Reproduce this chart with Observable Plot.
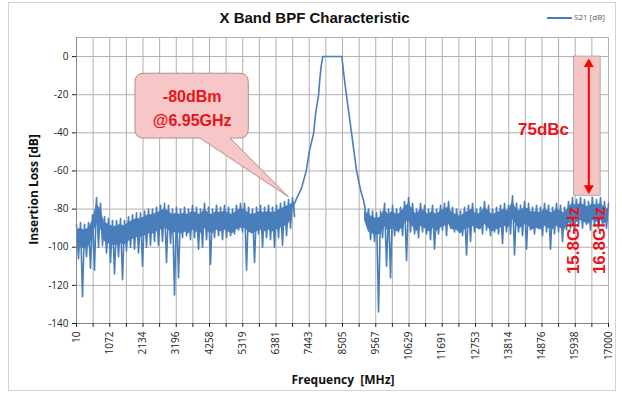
<!DOCTYPE html>
<html><head><meta charset="utf-8">
<script src="https://cdn.jsdelivr.net/npm/d3@7"></script>
<script src="https://cdn.jsdelivr.net/npm/@observablehq/plot@0.6"></script>
<style>
body{margin:0;background:#fff;}
#wrap{position:relative;width:622px;height:396px;overflow:hidden;font-family:"Open Sans",sans-serif;background:#fff;}
#chart svg{position:absolute;left:0;top:0;}
#border{position:absolute;left:8px;top:2px;width:608px;height:389px;border:1px solid #d4d4d4;box-sizing:border-box;}
#title{position:absolute;left:0;width:629px;top:9px;text-align:center;font:bold 15px "Liberation Sans",Arial,sans-serif;color:#111;}
#legend{position:absolute;left:547px;top:11px;font:8px "Open Sans",sans-serif;color:#595959;white-space:nowrap;}
#legend span.sw{display:inline-block;width:25px;height:2px;background:#4a7ebb;vertical-align:middle;margin-right:2px;}
#ylab{position:absolute;left:-67px;top:181px;width:200px;text-align:center;transform:rotate(-90deg);font:bold 12px "Open Sans",sans-serif;color:#111;}
#xlab{position:absolute;left:243px;top:371px;width:200px;text-align:center;font:bold 12px "Open Sans",sans-serif;color:#111;}
</style></head>
<body>
<div id="wrap">
  <div id="chart"></div>
  <div id="border"></div>
  <div id="title">X Band BPF Characteristic</div>
  <div id="legend"><span class="sw"></span>S21 [dB]</div>
  <div id="ylab">Insertion Loss [dB]</div>
  <div id="xlab">Frequency&nbsp; [MHz]</div>
</div>
<script>
// ---- axis tick labels ----
const xTickLabels = [10, 1072, 2134, 3196, 4258, 5319, 6381, 7443, 8505, 9567, 10629, 11691, 12753, 13814, 14876, 15938, 17000];
const yTickLabels = [0, -20, -40, -60, -80, -100, -120, -140];

// ---- S21 trace: lower stopband (10 .. 6909 MHz), upper / lower excursions per sample ----
const leftSpanMHz = [10, 6909];
const leftHi = [-88,-87,-88,-87,-83,-74,-77,-84,-85,-86,-86,-85,-86,-84,-83,-82,-82,-81,-80,-80,-79,-78,-77,-78,-80,-79,-80,-79,-80,-78,-79,-80,-77,-79,-80,-78,-79,-78,-79,-80,-78,-77,-77,-79,-80,-79,-78,-79,-78,-79,-78,-77,-76,-75,-74];
const leftLo = [-106,-126,-105,-111,-112,-100,-99,-103,-108,-114,-105,-117,-102,-100,-101,-103,-110,-100,-99,-97,-99,-97,-108,-98,-125,-116,-95,-94,-96,-95,-101,-100,-96,-109,-95,-94,-96,-95,-94,-93,-91,-92,-112,-92,-108,-93,-100,-95,-96,-100,-95,-99,-94,-90,-84];

// ---- passband skirt ----
const skirtMHz = [6950, 7037, 7197, 7347, 7443, 7580, 7653, 7740, 7781, 7826, 7877, 8484, 8538, 8611, 8784, 8953, 9081, 9177];
const skirtDb  = [-78, -74.5, -69, -60, -50, -40.4, -29, -20.5, -11.7, -4.7, 0, 0, -8, -17.8, -38.8, -59.8, -70, -75.5];

// ---- upper stopband (9209 .. 17000 MHz) ----
const rightSpanMHz = [9209, 17000];
const rightHi = [-78,-80,-81,-82,-81,-77,-80,-78,-80,-79,-76,-74,-77,-80,-77,-78,-80,-78,-80,-78,-77,-76,-79,-80,-81,-79,-78,-77,-80,-79,-76,-78,-80,-79,-78,-77,-78,-73,-77,-78,-76,-77,-79,-78,-79,-77,-78,-79,-77,-78,-79,-76,-74,-75,-74,-75,-76,-74,-75,-74,-76,-77];
const rightLo = [-86,-96,-97,-134,-95,-110,-116,-94,-92,-94,-107,-92,-93,-95,-92,-93,-96,-101,-93,-91,-94,-90,-92,-91,-94,-104,-97,-92,-90,-93,-91,-94,-92,-93,-98,-92,-93,-104,-92,-94,-101,-91,-93,-90,-94,-92,-101,-93,-92,-97,-91,-90,-92,-89,-90,-88,-91,-89,-90,-88,-90,-86];

// ---- annotations (data coordinates) ----
const callout = {x1: 1894, x2: 5513, yTop: -9, yBottom: -43, base1: 3970, base2: 4929, tipX: 6791, tipY: -73.8};
const calloutText = [{t: "-80dBm", f: 3705, db: -21.3}, {t: "@6.95GHz", f: 3705, db: -33.6}];
const band75 = [{x1: 15900, x2: 16750, y1: 0, y2: -73}];
const arrow75 = {f: 16371, top: -1, bottom: -72};
const label75 = [{t: "75dBc", f: 14926, db: -38.3}];
const bandEdgeLabels = [{t: "15.8GHz", f: 15870, db: -96.5}, {t: "16.8GHz", f: 16715, db: -96.5}];

// ---- build tables ----
function bandRows(span, hi, lo) {
  const n = hi.length, step = (span[1] - span[0]) / (n - 1);
  return hi.map((h, i) => ({f: span[0] + i * step, step, hi: h, lo: lo[i]}));
}
const leftRows = bandRows(leftSpanMHz, leftHi, leftLo);
const rightRows = bandRows(rightSpanMHz, rightHi, rightLo);
function zig(rows) {
  const out = [];
  rows.forEach((r) => {
    out.push({f: r.f, db: r.hi});
    if (r.f + r.step / 2 <= 17000) out.push({f: r.f + r.step / 2, db: r.lo});
  });
  return out;
}
const trace = [
  ...zig(leftRows),
  ...skirtMHz.map((f, i) => ({f, db: skirtDb[i]})),
  ...zig(rightRows)
];
const gridX = xTickLabels.flatMap((v, i) => i < xTickLabels.length - 1 ? [v, (v + xTickLabels[i + 1]) / 2] : [v]);

const blue = "#4a7ebb", red = "#e8141a", gridC = "#b0b0b0";

const calloutMark = (index, scales) => {
  const {x, y} = scales;
  const L = x(callout.x1), R = x(callout.x2), T = y(callout.yTop), B = y(callout.yBottom), r = 9;
  const p = d3.path();
  p.moveTo(L + r, T); p.lineTo(R - r, T); p.quadraticCurveTo(R, T, R, T + r);
  p.lineTo(R, B - r); p.quadraticCurveTo(R, B, R - r, B);
  p.lineTo(x(callout.base2), B); p.lineTo(x(callout.tipX), y(callout.tipY)); p.lineTo(x(callout.base1), B);
  p.lineTo(L + r, B); p.quadraticCurveTo(L, B, L, B - r); p.lineTo(L, T + r); p.quadraticCurveTo(L, T, L + r, T);
  p.closePath();
  return d3.create("svg:path").attr("d", p.toString()).attr("fill", "#f7c6c6").attr("stroke", "#b08c8c").attr("stroke-width", 1).node();
};

const chart = Plot.plot({
  width: 622, height: 396,
  marginLeft: 76, marginRight: 14, marginTop: 37, marginBottom: 73,
  x: {domain: [10, 17000]},
  y: {domain: [-140, 10]},
  style: {fontFamily: "'Open Sans', sans-serif", fontSize: "10px", color: "#222", background: "transparent"},
  marks: [
    Plot.ruleX(gridX, {stroke: gridC, strokeOpacity: 1}),
    Plot.ruleY(yTickLabels, {stroke: gridC}),
    Plot.ruleY([10], {stroke: gridC}),
    calloutMark,
    Plot.rect(band75, {x1: "x1", x2: "x2", y1: "y1", y2: "y2", fill: "#f5c4c4", stroke: "#a0a0a0", strokeWidth: 0.8}),
    Plot.areaY(leftRows, {x: "f", y1: d => Math.max(d.lo, d.hi - 13), y2: d => d.hi - 3, fill: blue}),
    Plot.areaY(rightRows, {x: "f", y1: d => Math.max(d.lo, d.hi - 12), y2: d => d.hi - 3, fill: blue}),
    Plot.line(trace, {x: "f", y: "db", stroke: blue, strokeWidth: 1.6}),
    Plot.ruleX([10], {stroke: "#868686"}),
    Plot.ruleY([-140], {stroke: "#868686"}),
    Plot.axisY({ticks: yTickLabels, tickSize: 4, tickPadding: 4, tickFormat: d => String(d), label: null, fontSize: 10, fill: "#222"}),
    Plot.axisX({ticks: gridX, tickSize: 4, tickPadding: 4, tickRotate: -90, tickFormat: d => xTickLabels.includes(d) ? String(d) : "", label: null, fontSize: 10, fill: "#222"}),
    Plot.link([arrow75], {x1: "f", x2: "f", y1: d => d.top - 3, y2: d => d.bottom + 3, stroke: "#ff0000", strokeWidth: 2}),
    Plot.dot([arrow75], {x: "f", y: "top", symbol: "triangle", r: 3.7, fill: "#ff0000", stroke: null, dy: 5.7}),
    Plot.dot([arrow75], {x: "f", y: "bottom", symbol: "triangle", r: 3.7, rotate: 180, fill: "#ff0000", stroke: null, dy: -5.7}),
    Plot.text(calloutText, {x: "f", y: "db", text: "t", fill: red, fontSize: 16, fontWeight: "bold", fontFamily: "'Liberation Sans', Arial, sans-serif"}),
    Plot.text(label75, {x: "f", y: "db", text: "t", fill: red, fontSize: 17, fontWeight: "bold", fontFamily: "'Liberation Sans', Arial, sans-serif"}),
    Plot.text(bandEdgeLabels, {x: "f", y: "db", text: "t", rotate: -90, fill: red, fontSize: 17, fontWeight: "bold", fontFamily: "'Liberation Sans', Arial, sans-serif"})
  ]
});
document.getElementById("chart").append(chart);
</script>
</body></html>
